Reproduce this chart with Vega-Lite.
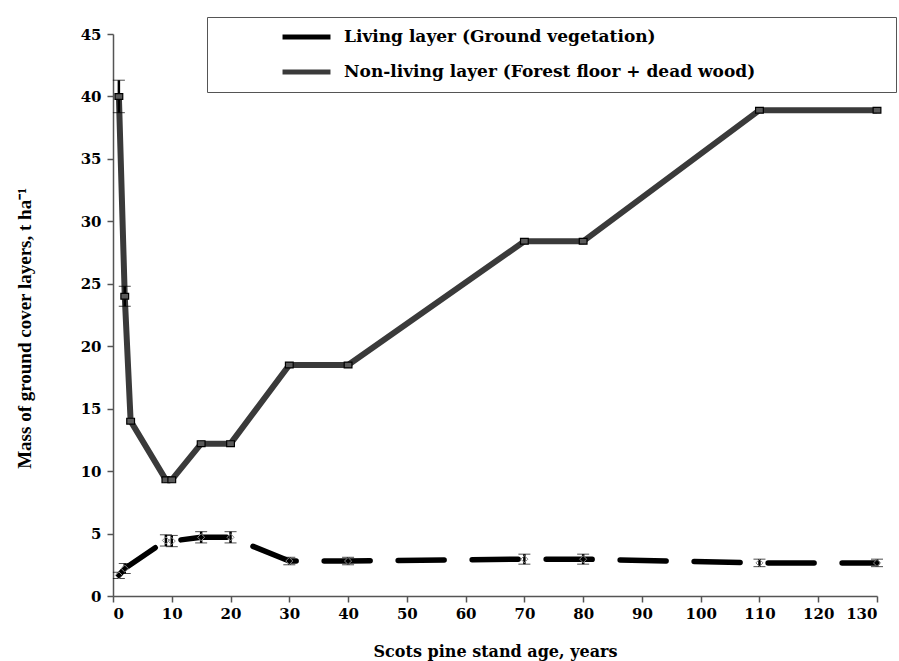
{
  "$schema": "https://vega.github.io/schema/vega-lite/v6.json",
  "autosize": {"type": "none"},
  "padding": {"left": 113, "top": 34, "right": 22, "bottom": 65},
  "width": 764,
  "height": 562,
  "background": "white",
  "config": {"view": {"stroke": null}},
  "data": {"values": [
    {"series": "Non-living layer (Forest floor + dead wood)", "age": 1, "mass": 40.0, "err": 1.3},
    {"series": "Non-living layer (Forest floor + dead wood)", "age": 2, "mass": 24.0, "err": 0.8},
    {"series": "Non-living layer (Forest floor + dead wood)", "age": 3, "mass": 14.0, "err": 0},
    {"series": "Non-living layer (Forest floor + dead wood)", "age": 9, "mass": 9.3, "err": 0},
    {"series": "Non-living layer (Forest floor + dead wood)", "age": 10, "mass": 9.3, "err": 0},
    {"series": "Non-living layer (Forest floor + dead wood)", "age": 15, "mass": 12.2, "err": 0},
    {"series": "Non-living layer (Forest floor + dead wood)", "age": 20, "mass": 12.2, "err": 0},
    {"series": "Non-living layer (Forest floor + dead wood)", "age": 30, "mass": 18.5, "err": 0},
    {"series": "Non-living layer (Forest floor + dead wood)", "age": 40, "mass": 18.5, "err": 0},
    {"series": "Non-living layer (Forest floor + dead wood)", "age": 70, "mass": 28.4, "err": 0},
    {"series": "Non-living layer (Forest floor + dead wood)", "age": 80, "mass": 28.4, "err": 0},
    {"series": "Non-living layer (Forest floor + dead wood)", "age": 110, "mass": 38.9, "err": 0},
    {"series": "Non-living layer (Forest floor + dead wood)", "age": 130, "mass": 38.9, "err": 0},
    {"series": "Living layer (Ground vegetation)", "age": 1, "mass": 1.65, "err": 0.25},
    {"series": "Living layer (Ground vegetation)", "age": 2, "mass": 2.2, "err": 0.4},
    {"series": "Living layer (Ground vegetation)", "age": 9, "mass": 4.45, "err": 0.45},
    {"series": "Living layer (Ground vegetation)", "age": 10, "mass": 4.4, "err": 0.45},
    {"series": "Living layer (Ground vegetation)", "age": 15, "mass": 4.7, "err": 0.45},
    {"series": "Living layer (Ground vegetation)", "age": 20, "mass": 4.7, "err": 0.45},
    {"series": "Living layer (Ground vegetation)", "age": 30, "mass": 2.8, "err": 0.3},
    {"series": "Living layer (Ground vegetation)", "age": 40, "mass": 2.8, "err": 0.3},
    {"series": "Living layer (Ground vegetation)", "age": 70, "mass": 2.95, "err": 0.4},
    {"series": "Living layer (Ground vegetation)", "age": 80, "mass": 2.95, "err": 0.4},
    {"series": "Living layer (Ground vegetation)", "age": 110, "mass": 2.65, "err": 0.3},
    {"series": "Living layer (Ground vegetation)", "age": 130, "mass": 2.65, "err": 0.3}
  ]},
  "encoding": {
    "x": {
      "field": "age", "type": "quantitative",
      "scale": {"domain": [0, 130], "nice": false, "zero": false},
      "axis": {
        "title": "Scots pine stand age, years",
        "values": [0,10,20,30,40,50,60,70,80,90,100,110,120,130],
        "grid": false,
        "domainColor": "#555", "tickColor": "#555", "tickSize": 6, "tickWidth": 1.5, "domainWidth": 1.5,
        "labelFont": "DejaVu Serif", "labelFontWeight": "bold", "labelFontSize": 15, "labelColor": "black", "labelPadding": 4,
        "titleFont": "DejaVu Serif", "titleFontWeight": "bold", "titleFontSize": 16, "titleColor": "black", "titlePadding": 22
      }
    },
    "y": {
      "field": "mass", "type": "quantitative",
      "scale": {"domain": [0, 45], "nice": false},
      "axis": {
        "title": "Mass of ground cover layers, t ha⁻¹",
        "values": [0,5,10,15,20,25,30,35,40,45],
        "grid": false,
        "domainColor": "#555", "tickColor": "#555", "tickSize": 6, "tickWidth": 1.5, "domainWidth": 1.5,
        "labelFont": "DejaVu Serif", "labelFontWeight": "bold", "labelFontSize": 15, "labelColor": "black", "labelPadding": 6,
        "titleFont": "Liberation Serif", "titleFontWeight": "bold", "titleFontSize": 19, "titleColor": "black", "titlePadding": 46,
        "titleY": 294
      }
    }
  },
  "layer": [
    {
      "transform": [{"filter": "datum.series === 'Non-living layer (Forest floor + dead wood)'"}],
      "mark": {"type": "line", "strokeWidth": 6},
      "encoding": {
        "color": {
          "field": "series", "type": "nominal",
          "scale": {"domain": ["Living layer (Ground vegetation)", "Non-living layer (Forest floor + dead wood)"], "range": ["#000000", "#3a3a3a"]},
          "legend": {
            "title": "xxxxxxxxxxxx", "titleOrient": "right", "titleOpacity": 0, "titlePadding": 56,
            "titleFont": "DejaVu Serif", "titleFontSize": 11, "titleFontWeight": "normal",
            "orient": "none", "legendX": 94, "legendY": -17,
            "direction": "vertical",
            "symbolType": "stroke", "symbolStrokeWidth": 5, "symbolSize": 2300, "symbolDash": [1, 0],
            "symbolOffset": 63, "clipHeight": 20, "rowPadding": 15,
            "labelFont": "DejaVu Serif", "labelFontWeight": "bold", "labelFontSize": 17, "labelColor": "black", "labelOffset": 11,
            "labelLimit": 900,
            "padding": 10, "strokeColor": "#555", "fillColor": "white"
          }
        }
      }
    },
    {
      "transform": [{"filter": "datum.series === 'Living layer (Ground vegetation)'"}],
      "mark": {"type": "line", "strokeWidth": 5.5, "strokeDash": [46, 28], "strokeCap": "round"},
      "encoding": {"color": {"field": "series", "type": "nominal"}}
    },
    {
      "transform": [{"filter": "datum.err > 0"}],
      "mark": {"type": "errorbar", "color": "black", "ticks": {"size": 12, "strokeWidth": 2.5}, "rule": {"strokeWidth": 2.5}},
      "encoding": {"yError": {"field": "err"}}
    },
    {
      "transform": [{"filter": "datum.series === 'Non-living layer (Forest floor + dead wood)'"}],
      "mark": {"type": "point", "shape": "M-1,-0.75H1V0.75H-1Z", "size": 60, "filled": true, "fill": "#5a5a5a", "stroke": "black", "strokeWidth": 1.2, "opacity": 1}
    },
    {
      "transform": [{"filter": "datum.series === 'Living layer (Ground vegetation)'"}],
      "mark": {"type": "point", "shape": "diamond", "size": 50, "filled": false, "stroke": "#888", "strokeWidth": 1, "opacity": 1}
    }
  ]
}
